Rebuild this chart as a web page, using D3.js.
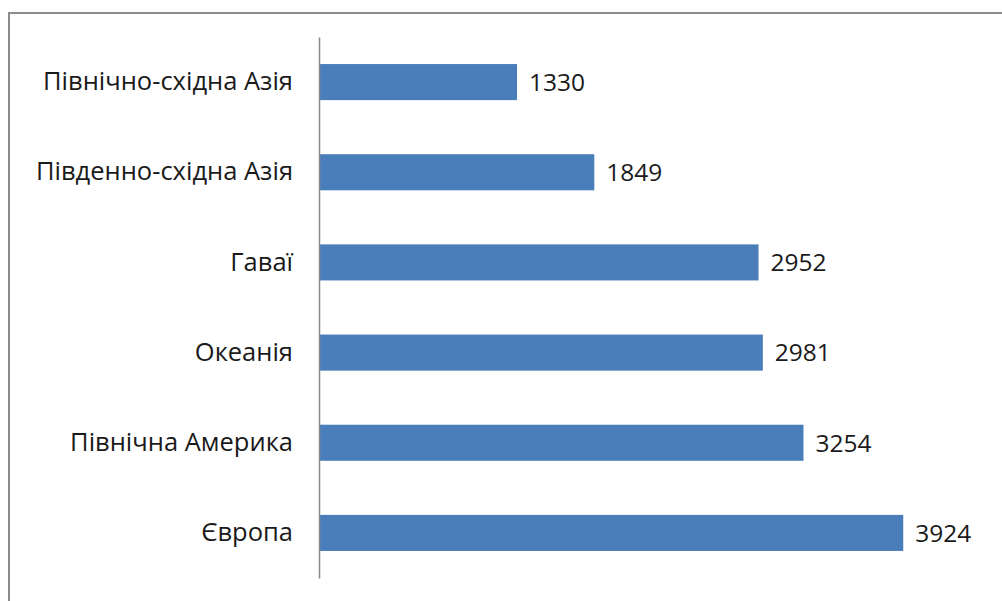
<!DOCTYPE html>
<html>
<head>
<meta charset="utf-8">
<script src="https://cdn.jsdelivr.net/npm/d3@7"></script>
<style>
  body { margin: 0; background: #fff; }
  svg { display: block; }
  text { font-family: "Open Sans", "Noto Sans", sans-serif; fill: #1a1a1a; }
</style>
</head>
<body>
<div id="chart"></div>
<script>
// chart data
const regions = ['Північно-східна Азія', 'Південно-східна Азія', 'Гаваї', 'Океанія', 'Північна Америка', 'Європа'];
const values = [1330, 1849, 2952, 2981, 3254, 3924];

const width = 1002;
const height = 601;
const plot = { left: 319, right: 989, top: 37, bottom: 578 };

const svg = d3.select('#chart')
  .append('svg')
  .attr('width', width)
  .attr('height', height);

// outer frame
svg.append('rect')
  .attr('x', 9)
  .attr('y', 13)
  .attr('width', width + 10)
  .attr('height', height + 10)
  .attr('fill', 'none')
  .attr('stroke', '#8c8c8c')
  .attr('stroke-width', 2);

const x = d3.scaleLinear()
  .domain([0, 4500])
  .range([plot.left, plot.right]);

const y = d3.scaleBand()
  .domain(regions)
  .range([plot.top, plot.bottom])
  .paddingInner(0.6)
  .paddingOuter(0.3);

const data = regions.map((r, i) => ({ region: r, value: values[i] }));

// bars
svg.append('g')
  .selectAll('rect')
  .data(data)
  .enter()
  .append('rect')
  .attr('x', x(0))
  .attr('y', d => y(d.region))
  .attr('width', d => x(d.value) - x(0))
  .attr('height', y.bandwidth())
  .style('fill', '#4a7ebb');

// value labels
svg.append('g')
  .selectAll('text')
  .data(data)
  .enter()
  .append('text')
  .attr('x', d => x(d.value) + 12)
  .attr('y', d => y(d.region) + y.bandwidth() / 2)
  .attr('dy', '0.36em')
  .style('font-size', '24.5px')
  .text(d => d.value);

// category axis
const yAxis = svg.append('g')
  .attr('transform', `translate(${plot.left},0)`)
  .call(d3.axisLeft(y).tickSize(0).tickPadding(26));

yAxis.select('.domain')
  .attr('stroke', '#888')
  .attr('stroke-width', 1.5);

yAxis.selectAll('text')
  .style('font-size', '25.5px')
  .style('font-family', '"Open Sans", "Noto Sans", sans-serif')
  .attr('fill', '#1a1a1a');
</script>
</body>
</html>
